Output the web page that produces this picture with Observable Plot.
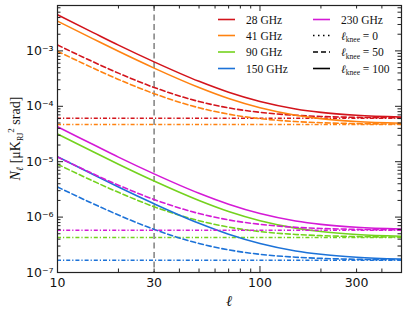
<!DOCTYPE html>
<html><head><meta charset="utf-8">
<script src="https://cdn.jsdelivr.net/npm/d3@7"></script>
<script src="https://cdn.jsdelivr.net/npm/@observablehq/plot@0.6"></script>
<style>body{margin:0;background:#fff;} svg{display:block}</style>
</head><body><div id="chart"></div>
<script>
// multipole samples
const ell = [10, 15, 20, 30, 50, 70, 100, 150, 200, 300, 500];
const bands = ["28 GHz", "41 GHz", "90 GHz", "150 GHz", "230 GHz"];
const bandColors = ["#d3141c", "#ff8210", "#74d21e", "#1c72d8", "#d41ad6"];
// white-noise levels (ell_knee = 0)
const whiteNoise = [6.1e-5, 4.7e-5, 4.3e-7, 1.67e-7, 5.8e-7];
// ell_knee = 50
const n28_k50  = [1.28e-3, 6.34e-4, 3.97e-4, 2.19e-4, 1.22e-4, 9.36e-5, 7.78e-5, 6.89e-5, 6.56e-5, 6.32e-5, 6.19e-5];
const n41_k50  = [9.85e-4, 4.89e-4, 3.06e-4, 1.69e-4, 9.4e-5, 7.21e-5, 5.99e-5, 5.31e-5, 5.06e-5, 4.87e-5, 4.77e-5];
const n90_k50  = [9.01e-6, 4.47e-6, 2.8e-6, 1.54e-6, 8.6e-7, 6.6e-7, 5.48e-7, 4.86e-7, 4.63e-7, 4.45e-7, 4.36e-7];
const n150_k50 = [3.5e-6, 1.74e-6, 1.09e-6, 6.0e-7, 3.34e-7, 2.56e-7, 2.13e-7, 1.89e-7, 1.8e-7, 1.73e-7, 1.69e-7];
const n230_k50 = [1.22e-5, 6.03e-6, 3.77e-6, 2.08e-6, 1.16e-6, 8.9e-7, 7.4e-7, 6.55e-7, 6.24e-7, 6.01e-7, 5.88e-7];
// ell_knee = 100
const n28_k100  = [4.48e-3, 2.14e-3, 1.27e-3, 6.34e-4, 2.82e-4, 1.79e-4, 1.22e-4, 8.97e-5, 7.78e-5, 6.89e-5, 6.4e-5];
const n41_k100  = [3.45e-3, 1.65e-3, 9.82e-4, 4.89e-4, 2.18e-4, 1.38e-4, 9.4e-5, 6.91e-5, 5.99e-5, 5.31e-5, 4.94e-5];
const n90_k100  = [3.16e-5, 1.51e-5, 8.99e-6, 4.47e-6, 1.99e-6, 1.26e-6, 8.6e-7, 6.32e-7, 5.48e-7, 4.86e-7, 4.52e-7];
const n150_k100 = [1.23e-5, 5.86e-6, 3.49e-6, 1.74e-6, 7.73e-7, 4.91e-7, 3.34e-7, 2.45e-7, 2.13e-7, 1.89e-7, 1.75e-7];
const n230_k100 = [4.26e-5, 2.04e-5, 1.21e-5, 6.03e-6, 2.69e-6, 1.71e-6, 1.16e-6, 8.53e-7, 7.4e-7, 6.55e-7, 6.09e-7];
const knee50 = [n28_k50, n41_k50, n90_k50, n150_k50, n230_k50];
const knee100 = [n28_k100, n41_k100, n90_k100, n150_k100, n230_k100];
const refEll = [30];

// ticks
const xLabelTicks = [10, 30, 100, 300];
const xMajorTicks = [10, 100];
const xMinorTicks = [20, 30, 40, 50, 60, 70, 80, 90, 200, 300, 400];
const yMajorTicks = [1e-7, 1e-6, 1e-5, 1e-4, 1e-3];
const yMinorTicks = [];
for (let d = -7; d <= -3; d++) for (let k = 2; k <= 9; k++) { const v = k * Math.pow(10, d); if (v <= 6.6e-3) yMinorTicks.push(v); }

const W = 407, H = 313, mL = 57, mR = 6, mT = 5, mB = 41;
const pw = W - mL - mR, ph = H - mT - mB;
const supMap = {"-": "\u207B", "0": "\u2070", "1": "\u00B9", "2": "\u00B2", "3": "\u00B3", "4": "\u2074", "5": "\u2075", "6": "\u2076", "7": "\u2077", "8": "\u2078", "9": "\u2079"};
const fmtPow = d => "10" + String(Math.round(Math.log10(d))).split("").map(c => supMap[c]).join("");

const dashDot = "4,2,1.2,2", dashed = "5,3";
const marks = [];
marks.push(Plot.ruleX(refEll, {x: d => d, stroke: "#808080", strokeWidth: 1.5, strokeDasharray: "6,3.5"}));
bands.forEach((b, i) => {
  const c = bandColors[i];
  marks.push(Plot.ruleY([whiteNoise[i]], {y: d => d, stroke: c, strokeWidth: 1.5, strokeDasharray: dashDot}));
  marks.push(Plot.line(ell.map((e, j) => ({ell: e, N: knee50[i][j]})), {x: "ell", y: "N", stroke: c, strokeWidth: 1.6, strokeDasharray: dashed, curve: "monotone-x", clip: true}));
  marks.push(Plot.line(ell.map((e, j) => ({ell: e, N: knee100[i][j]})), {x: "ell", y: "N", stroke: c, strokeWidth: 1.6, curve: "monotone-x", clip: true}));
});
const tc = "#222";
// inward ticks on all four sides
marks.push(Plot.tickX(xMajorTicks, {x: d => d, insetTop: ph - 6, stroke: tc}));
marks.push(Plot.tickX(xMajorTicks, {x: d => d, insetBottom: ph - 6, stroke: tc}));
marks.push(Plot.tickX(xMinorTicks, {x: d => d, insetTop: ph - 3.5, stroke: tc}));
marks.push(Plot.tickX(xMinorTicks, {x: d => d, insetBottom: ph - 3.5, stroke: tc}));
marks.push(Plot.tickY(yMajorTicks, {y: d => d, insetRight: pw - 6, stroke: tc}));
marks.push(Plot.tickY(yMajorTicks, {y: d => d, insetLeft: pw - 6, stroke: tc}));
marks.push(Plot.tickY(yMinorTicks, {y: d => d, insetRight: pw - 3.5, stroke: tc}));
marks.push(Plot.tickY(yMinorTicks, {y: d => d, insetLeft: pw - 3.5, stroke: tc}));
marks.push(Plot.frame({stroke: tc, strokeWidth: 1.2}));
marks.push(Plot.axisX(xLabelTicks, {tickSize: 0, tickPadding: 6, tickFormat: d => String(d), label: null, fontSize: 12.5}));
marks.push(Plot.axisY(yMajorTicks, {tickSize: 0, tickPadding: 4, tickFormat: fmtPow, label: null, fontSize: 12.5}));

const plot = Plot.plot({
  width: W, height: H,
  marginLeft: mL, marginRight: mR, marginTop: mT, marginBottom: mB,
  x: {type: "log", domain: [10, 500]},
  y: {type: "log", domain: [1e-7, 6.6e-3]},
  style: {fontFamily: "'DejaVu Sans', sans-serif", fontSize: "12px", background: "#fff", color: "#111"},
  marks
});
document.getElementById("chart").appendChild(plot);

const svg = d3.select(plot);
const serif = "'Liberation Serif', 'DejaVu Serif', serif";
// y label
const yl = svg.append("text")
  .attr("transform", `translate(20, ${mT + ph / 2}) rotate(-90)`)
  .attr("text-anchor", "middle").attr("fill", "#111")
  .style("font-family", serif).style("font-size", "14px");
yl.append("tspan").style("font-style", "italic").text("N");
yl.append("tspan").attr("dy", 3).style("font-size", "10px").style("font-style", "italic").text("\u2113");
yl.append("tspan").attr("dy", -3).text(" [\u03BCK");
yl.append("tspan").attr("dy", 3).style("font-size", "8px").text("RJ");
yl.append("tspan").attr("dy", -9).style("font-size", "9px").text("2");
yl.append("tspan").attr("dy", 6).text(" srad]");
// x label
svg.append("text").attr("x", mL + pw / 2).attr("y", 306).attr("text-anchor", "middle")
  .attr("fill", "#111").style("font-family", serif).style("font-style", "italic").style("font-size", "15px").text("\u2113");

// legend
const lg = svg.append("g").attr("text-anchor", "start").style("font-family", serif).style("font-size", "11.5px").attr("fill", "#111");
const rowsY = [19.5, 35.5, 52, 68.5];
bands.forEach((b, i) => {
  const col = i < 4 ? 0 : 1, row = i < 4 ? i : 0;
  const x0 = col === 0 ? 218 : 313, tx = col === 0 ? 246 : 341;
  lg.append("line").attr("x1", x0).attr("x2", x0 + 17).attr("y1", rowsY[row]).attr("y2", rowsY[row])
    .attr("stroke", bandColors[i]).attr("stroke-width", 1.6);
  lg.append("text").attr("x", tx).attr("y", rowsY[row] + 4).text(b);
});
const kneeLabels = ["0", "50", "100"];
const kneeDash = [dashDot, dashed, null];
kneeLabels.forEach((k, i) => {
  const y = rowsY[i + 1];
  const ln = lg.append("line").attr("x1", 313).attr("x2", 330).attr("y1", y).attr("y2", y)
    .attr("stroke", "#000").attr("stroke-width", 1.6);
  if (kneeDash[i]) ln.attr("stroke-dasharray", i === 0 ? "1.5,3.5" : "5,3");
  const t = lg.append("text").attr("x", 341).attr("y", y + 4);
  t.append("tspan").style("font-style", "italic").text("\u2113");
  t.append("tspan").attr("dy", 2.5).style("font-size", "7.5px").text("knee");
  t.append("tspan").attr("dy", -2.5).text(" = " + k);
});
</script></body></html>
